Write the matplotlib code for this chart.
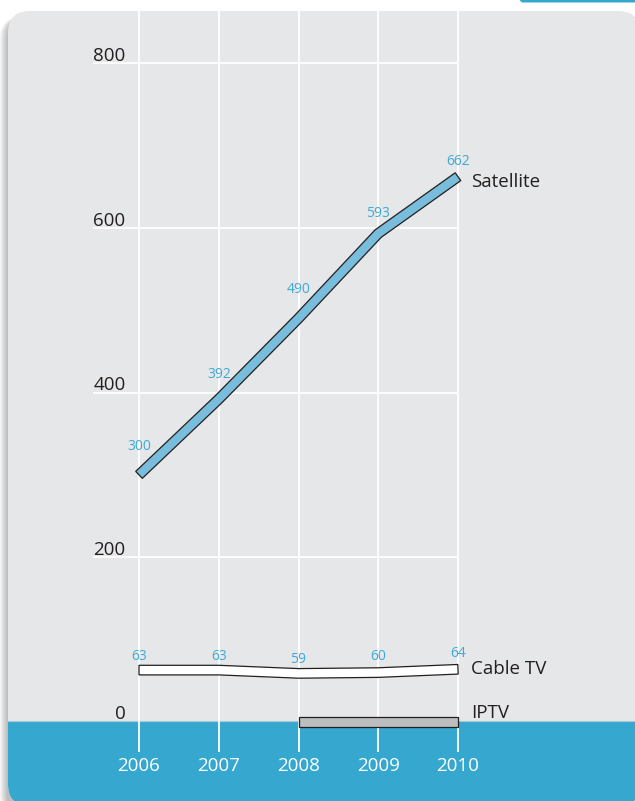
import numpy as np
import matplotlib
matplotlib.use("Agg")
import matplotlib.pyplot as plt
from matplotlib.patches import FancyBboxPatch, Rectangle, Polygon

plt.rcParams['font.family'] = ['Open Sans', 'DejaVu Sans']

# ---------------- data ----------------
years = [2006, 2007, 2008, 2009, 2010]
satellite = [300, 392, 490, 593, 662]
cable_tv = [63, 63, 59, 60, 64]
iptv_years = [2008, 2009, 2010]
iptv = [0, 0, 0]
y_ticks = [0, 200, 400, 600, 800]
series_names = ["Satellite", "Cable TV", "IPTV"]

# ---------------- style ----------------
GRAY_PANEL = '#e6e7e8'
BLUE_BAND = '#36a7ce'
SAT_FILL = '#79bddc'
CABLE_FILL = '#ffffff'
IPTV_FILL = '#bcbec0'
DARK = '#231f20'
LABEL_BLUE = '#3eaad8'

W, H = 635, 801
fig = plt.figure(figsize=(W / 100, H / 100), dpi=100)
fig.patch.set_facecolor('white')

# background decoration axes in pixel coordinates
bg = fig.add_axes([0, 0, 1, 1])
bg.set_xlim(0, W)
bg.set_ylim(H, 0)
bg.axis('off')

# soft shadow on the left
for k in range(1, 9):
    sh = FancyBboxPatch((8 - k, 11 + 6), 640, 800,
                        boxstyle="round,pad=0,rounding_size=22",
                        fc='#4a4a4a', ec='none', alpha=0.05)
    bg.add_patch(sh)

panel = FancyBboxPatch((8, 11), 632, 795,
                       boxstyle="round,pad=0,rounding_size=22",
                       fc=GRAY_PANEL, ec='none')
bg.add_patch(panel)

band = Rectangle((0, 721), W + 20, 120, fc=BLUE_BAND, ec='none')
bg.add_patch(band)
band.set_clip_path(panel)
sep, = bg.plot([8, 640], [721, 721], color='#a7c9d6', lw=0.8)
sep.set_clip_path(panel)

top_bar = FancyBboxPatch((520, -4), 130, 6.5,
                         boxstyle="round,pad=0,rounding_size=3",
                         fc=BLUE_BAND, ec='none')
bg.add_patch(top_bar)

# ---------------- data axes ----------------
X0_PX, X1_PX = 139, 458      # pixel x of first / last year
Y0_PX, Y800_PX = 722, 63     # pixel y (from top) of 0 and 800
ppy = (X1_PX - X0_PX) / (years[-1] - years[0])
ppu = (Y0_PX - Y800_PX) / 800.0

ax = fig.add_axes([0, 0, 1, 1])
ax.axis('off')
ax.set_xlim(years[0] - X0_PX / ppy, years[0] + (W - X0_PX) / ppy)
ax.set_ylim(-(H - Y0_PX) / ppu, Y0_PX / ppu)

# gridlines
ax.vlines(years, ymin=-(752 - Y0_PX) / ppu, ymax=(Y0_PX - 11) / ppu,
          colors='white', lw=1.3, zorder=1)
ax.hlines(y_ticks[1:], xmin=years[0] - (X0_PX - 93) / ppy, xmax=years[-1],
          colors='white', lw=1.3, zorder=1)

# y tick labels
for v in y_ticks:
    ax.annotate(str(v), (years[0] - (X0_PX - 125.5) / ppy, v),
                xytext=(0, 3 if v == 0 else 2), textcoords='offset pixels',
                ha='right', va='baseline', fontsize=13.5, color=DARK, zorder=5)

# year labels
for yr in years:
    ax.annotate(str(yr), (yr, 0), xytext=(0, -44), textcoords='offset pixels',
                ha='center', va='center', fontsize=13.5, color='white', zorder=5)


def band_line(xs, ys, face, half=4.8):
    pts = ax.transData.transform(np.column_stack([xs, ys]))
    n = len(pts)
    normals = []
    for i in range(n - 1):
        d = pts[i + 1] - pts[i]
        d = d / np.hypot(*d)
        normals.append(np.array([-d[1], d[0]]))
    top, bot = [], []
    for i in range(n):
        if i == 0:
            m = normals[0]
            s = half
        elif i == n - 1:
            m = normals[-1]
            s = half
        else:
            m = normals[i - 1] + normals[i]
            m = m / np.hypot(*m)
            s = half / np.dot(m, normals[i - 1])
        top.append(pts[i] + m * s)
        bot.append(pts[i] - m * s)
    poly_px = np.array(top + bot[::-1])
    poly = ax.transData.inverted().transform(poly_px)
    ax.add_patch(Polygon(poly, closed=True, fc=face, ec=DARK, lw=0.9,
                         joinstyle='miter', zorder=3))


band_line(years, satellite, SAT_FILL)
band_line(years, cable_tv, CABLE_FILL)
band_line(iptv_years, iptv, IPTV_FILL)

# value labels
sat_label_dy = [28, 25, 29, 20, 15]
cable_label_dy = [14, 14, 14, 16, 16]
for yr, v, dy in zip(years, satellite, sat_label_dy):
    ax.annotate(str(v), (yr, v), xytext=(0, dy), textcoords='offset pixels',
                ha='center', va='center', fontsize=10, color=LABEL_BLUE, zorder=5)
for yr, v, dy in zip(years, cable_tv, cable_label_dy):
    ax.annotate(str(v), (yr, v), xytext=(0, dy), textcoords='offset pixels',
                ha='center', va='center', fontsize=10, color=LABEL_BLUE, zorder=5)

# series names
name_dy = [-5, 0, 9]
for name, (xs, ys), dy in zip(series_names,
                              [(years, satellite), (years, cable_tv), (iptv_years, iptv)],
                              name_dy):
    ax.annotate(name, (xs[-1], ys[-1]), xytext=(13, dy), textcoords='offset pixels',
                ha='left', va='center', fontsize=13.5, color=DARK, zorder=5)

fig.savefig('out.png', dpi=100, facecolor='white')
